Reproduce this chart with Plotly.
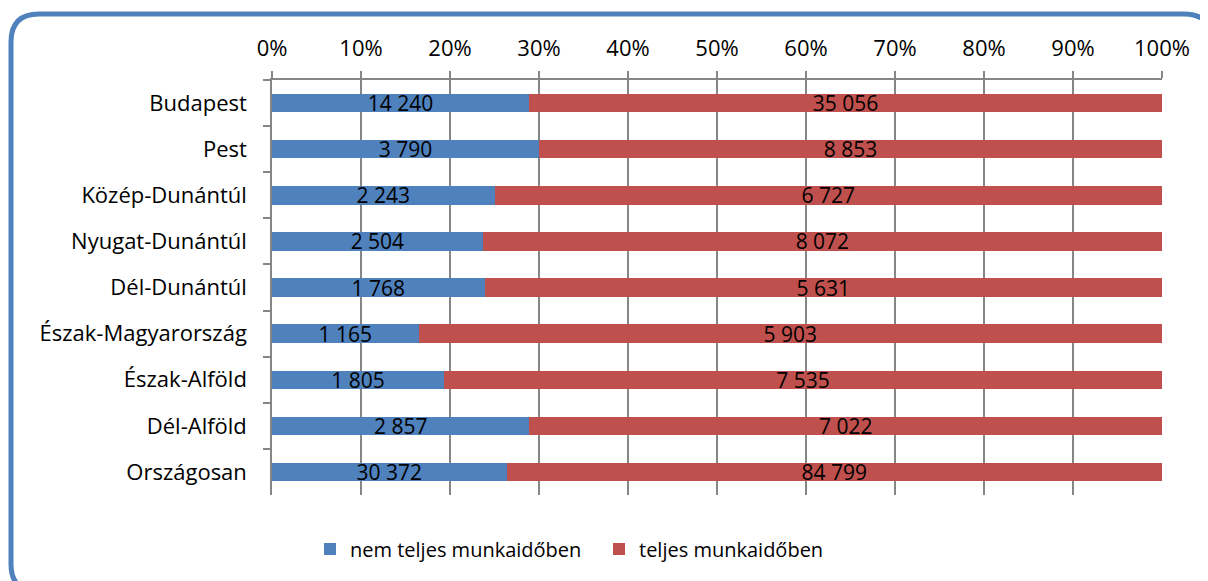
import plotly.graph_objects as go

categories = ["Budapest", "Pest", "Közép-Dunántúl", "Nyugat-Dunántúl", "Dél-Dunántúl",
              "Észak-Magyarország", "Észak-Alföld", "Dél-Alföld", "Országosan"]
part_time = [14240, 3790, 2243, 2504, 1768, 1165, 1805, 2857, 30372]
full_time = [35056, 8853, 6727, 8072, 5631, 5903, 7535, 7022, 84799]
series_names = ["nem teljes munkaidőben", "teljes munkaidőben"]
tick_vals = [0, 10, 20, 30, 40, 50, 60, 70, 80, 90, 100]
tick_text = ["0%", "10%", "20%", "30%", "40%", "50%", "60%", "70%", "80%", "90%", "100%"]

BLUE = "#4F81BD"
RED = "#C0504D"
GRAY = "#868686"
FONT = "Open Sans"

def fmt(v):
    return f"{v:,}".replace(",", " ")

OFF = 8  # default page body margin
W, H = 1208 - OFF, 581 - OFF
L, R, T, B = 272 - OFF, 46, 80 - OFF, 581 - 495

fig = go.Figure()
for name, vals, col in [(series_names[0], part_time, BLUE), (series_names[1], full_time, RED)]:
    fig.add_trace(go.Bar(
        y=categories, x=vals, name=name, orientation="h",
        marker=dict(color=col, line=dict(width=0)),
        text=[fmt(v) for v in vals], textposition="inside", insidetextanchor="middle",
        textangle=0, constraintext="none",
        textfont=dict(color="black", size=21, family=FONT),
        hoverinfo="skip",
    ))

pw = W - L - R
ph = H - T - B
def px(x):
    return (x - OFF - L) / pw
def py(y):
    return (H - B - (y - OFF)) / ph

x0, x1, y0, y1, r = 11, 1212, 14, 592, 28
path = (f"M {px(x0+r)},{py(y0)} L {px(x1-r)},{py(y0)} Q {px(x1)},{py(y0)} {px(x1)},{py(y0+r)} "
        f"L {px(x1)},{py(y1-r)} Q {px(x1)},{py(y1)} {px(x1-r)},{py(y1)} "
        f"L {px(x0+r)},{py(y1)} Q {px(x0)},{py(y1)} {px(x0)},{py(y1-r)} "
        f"L {px(x0)},{py(y0+r)} Q {px(x0)},{py(y0)} {px(x0+r)},{py(y0)} Z")

fig.update_layout(
    width=W, height=H,
    margin=dict(l=L, r=R, t=T, b=B),
    barmode="stack", barnorm="percent", bargap=0.6,
    plot_bgcolor="white", paper_bgcolor="white",
    font=dict(family=FONT, size=22, color="black"),
    showlegend=True,
    legend=dict(orientation="h", x=px(310), xanchor="left", y=py(549), yanchor="middle",
                font=dict(size=20, family=FONT), entrywidth=244, entrywidthmode="pixels",
                traceorder="normal"),
    shapes=[dict(type="path", xref="paper", yref="paper", path=path,
                 line=dict(color=BLUE, width=5), fillcolor="rgba(0,0,0,0)", layer="above")],
)
fig.update_xaxes(side="top", range=[0, 100], tickvals=tick_vals, ticktext=tick_text,
                 showgrid=True, gridcolor=GRAY, gridwidth=1.5,
                 showline=True, linecolor=GRAY, linewidth=1.5,
                 ticks="outside", ticklen=7, tickcolor=GRAY, tickwidth=1.5,
                 ticklabelstandoff=6, zeroline=False, fixedrange=True)
fig.update_yaxes(autorange="reversed", type="category", tickson="boundaries",
                 showline=True, linecolor=GRAY, linewidth=1.5,
                 ticks="outside", ticklen=7, tickcolor=GRAY, tickwidth=1.5,
                 showgrid=False, ticklabelstandoff=19, fixedrange=True)

fig.write_html("out.html")
